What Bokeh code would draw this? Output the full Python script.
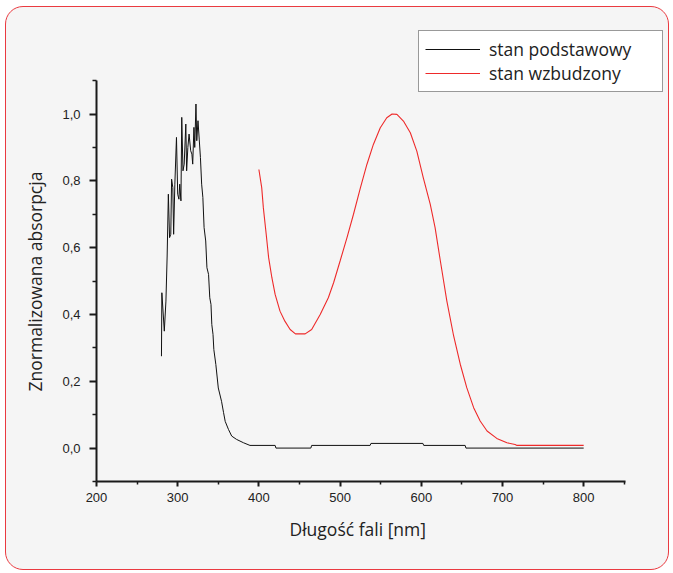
from bokeh.plotting import figure
from bokeh.models import FixedTicker, Legend, LegendItem, Range1d, Title
from bokeh.layouts import column
from bokeh.embed import file_html
from bokeh.resources import INLINE

# ---- data ----
wl_ground = [280.0, 280.5, 283.5, 285.5, 287.0, 288.5, 290.0, 291.5, 292.5, 294.0,
             295.0, 296.5, 298.5, 300.0, 301.5, 302.5, 304.0, 305.0, 306.5, 308.0,
             310.0, 311.0, 312.5, 314.0, 316.0, 317.5, 318.5, 320.0, 321.0, 322.5,
             323.5, 325.0, 326.5, 328.0, 329.5, 331.0, 332.5, 334.5, 336.0, 338.0,
             339.5, 341.0, 342.0, 343.5, 344.5, 347.0, 350.0, 354.0, 356.5, 358.5,
             362.5, 366.5, 372.5, 381.0, 389.0, 420.0, 421.0, 464.0, 465.0, 537.0,
             538.0, 602.0, 603.0, 654.0, 655.0, 800.0]
abs_ground = [0.275, 0.465, 0.350, 0.440, 0.575, 0.760, 0.630, 0.640, 0.805, 0.780,
              0.640, 0.790, 0.930, 0.760, 0.745, 0.790, 0.740, 0.990, 0.830, 0.850,
              0.970, 0.830, 0.900, 0.940, 0.890, 0.880, 0.850, 0.960, 0.900, 1.030,
              0.920, 0.980, 0.925, 0.870, 0.790, 0.750, 0.660, 0.620, 0.540, 0.520,
              0.450, 0.430, 0.370, 0.340, 0.295, 0.250, 0.180, 0.140, 0.106, 0.080,
              0.056, 0.036, 0.026, 0.016, 0.008, 0.008, 0.000, 0.000, 0.008, 0.008,
              0.014, 0.014, 0.008, 0.008, 0.000, 0.000]

wl_excited = [400.0, 403.5, 405.5, 409.0, 412.0, 416.0, 420.0, 426.0, 432.0, 438.5,
              445.0, 457.0, 465.0, 475.5, 485.5, 492.0, 500.0, 508.5, 516.5, 525.0,
              533.0, 541.0, 549.5, 557.5, 564.0, 570.0, 578.0, 586.5, 594.5, 602.5,
              611.0, 617.0, 623.5, 631.5, 639.5, 648.0, 656.0, 664.5, 672.5, 681.0,
              693.0, 705.5, 715.5, 718.0, 800.0]
abs_excited = [0.834, 0.779, 0.719, 0.640, 0.570, 0.510, 0.460, 0.410, 0.380, 0.355,
               0.342, 0.342, 0.355, 0.400, 0.450, 0.495, 0.560, 0.630, 0.700, 0.779,
               0.849, 0.909, 0.959, 0.989, 1.000, 0.999, 0.979, 0.944, 0.889, 0.809,
               0.730, 0.660, 0.560, 0.440, 0.340, 0.251, 0.181, 0.121, 0.081, 0.051,
               0.029, 0.016, 0.011, 0.008, 0.008]

series_names = ["stan podstawowy", "stan wzbudzony"]
x_ticks = [200, 300, 400, 500, 600, 700, 800]
x_minor = [250, 350, 450, 550, 650, 750, 850]
y_ticks = [0.0, 0.2, 0.4, 0.6, 0.8, 1.0]
y_tick_labels = ["0,0", "0,2", "0,4", "0,6", "0,8", "1,0"]
y_minor = [-0.1, 0.1, 0.3, 0.5, 0.7, 0.9, 1.1]
x_axis_extent = (200, 852)
y_axis_extent = (-0.1, 1.1)
x_title = "Długość fali [nm]"
y_title = "Znormalizowana absorpcja"

# ---- figure ----
W, H = 662, 562
p = figure(width=W, height=H, output_backend="svg", toolbar_location=None,
           x_range=Range1d(200, 902), y_range=Range1d(-0.1, 1.262),
           min_border_left=90, min_border_right=2, min_border_top=19,
           min_border_bottom=88)
p.border_fill_color = None
p.background_fill_color = None
p.outline_line_color = None
p.grid.visible = False

for ax in (p.xaxis[0], p.yaxis[0]):
    ax.axis_line_width = 2
    ax.axis_line_color = "#1a1a1a"
    ax.major_tick_line_width = 2
    ax.major_tick_line_color = "#1a1a1a"
    ax.minor_tick_line_width = 1.5
    ax.minor_tick_line_color = "#1a1a1a"
    ax.major_tick_in = 0
    ax.minor_tick_in = 0
    ax.major_label_text_font = "Liberation Sans"
    ax.major_label_text_font_size = "13px"
    ax.major_label_text_color = "#222222"

p.xaxis.bounds = x_axis_extent
p.yaxis.bounds = y_axis_extent
p.xaxis.ticker = FixedTicker(ticks=x_ticks, minor_ticks=x_minor)
p.yaxis.ticker = FixedTicker(ticks=y_ticks, minor_ticks=y_minor)
p.yaxis.major_label_overrides = dict(zip(y_ticks, y_tick_labels))
p.xaxis.major_tick_out = 5
p.xaxis.minor_tick_out = 3
p.yaxis.major_tick_out = 7
p.yaxis.minor_tick_out = 4
p.xaxis.major_label_standoff = 6
p.yaxis.major_label_standoff = 9

# axis titles as side-panel titles, placed along the drawn axis lines
title_style = dict(text_font="Open Sans", text_font_size="17.5px",
                   text_font_style="normal", text_color="#222222", align="left")
has_standoff = "standoff" in Title.properties()
y_kw = dict(standoff=26) if has_standoff else {}
x_kw = dict(standoff=21) if has_standoff else {}
p.add_layout(Title(text=y_title, offset=90, **title_style, **y_kw), "left")
p.add_layout(Title(text=x_title, offset=193, **title_style, **x_kw), "below")

r_g = p.line(wl_ground, abs_ground, line_color="#111111", line_width=1)
r_e = p.line(wl_excited, abs_excited, line_color="#ee2a2a", line_width=1.1)

legend = Legend(items=[LegendItem(label=series_names[0], renderers=[r_g]),
                       LegendItem(label=series_names[1], renderers=[r_e])],
                location=(322, 389), padding=6, spacing=0, margin=0,
                glyph_width=55, label_standoff=9, label_width=167,
                label_text_font="Open Sans", label_text_font_size="17.5px",
                label_text_color="#222222",
                border_line_color="#333333", border_line_width=1,
                background_fill_color="white", background_fill_alpha=1.0)
p.add_layout(legend, "center")

layout = column(p, styles={"border": "1.5px solid #ea3a40", "border-radius": "18px",
                           "margin-left": "5px", "margin-top": "6px",
                           "background-color": "#f5f5f5"})

open("out.html", "w").write(file_html(layout, INLINE))
